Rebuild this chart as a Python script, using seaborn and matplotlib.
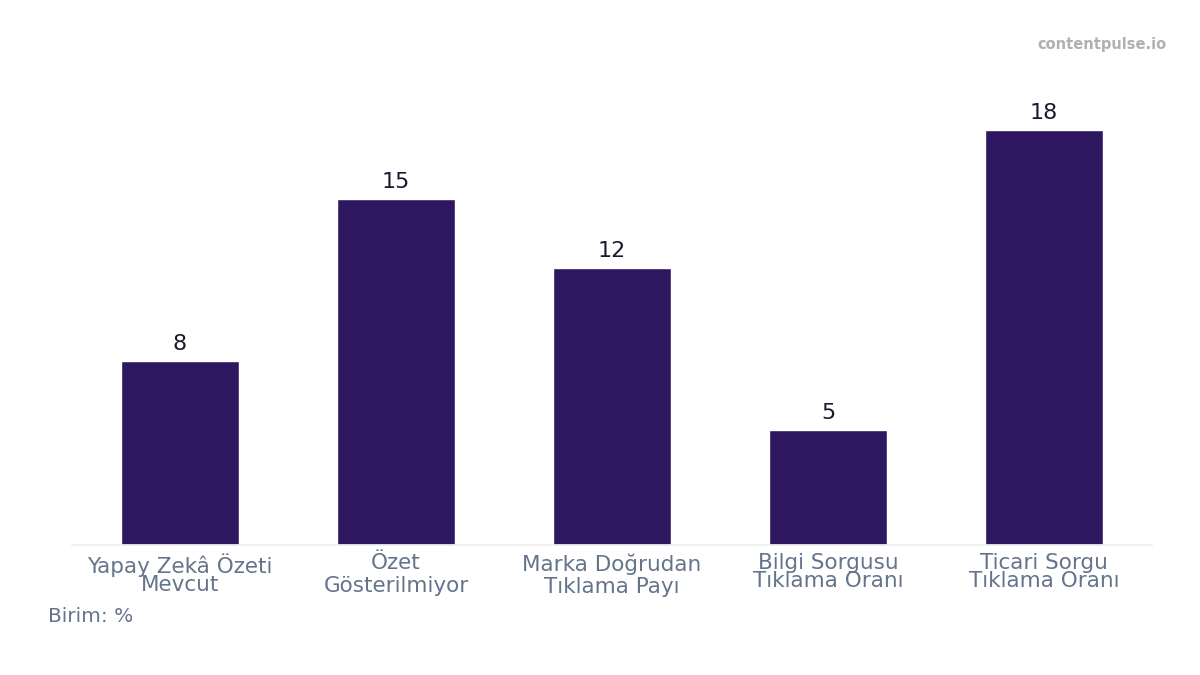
import matplotlib
matplotlib.use("Agg")
import matplotlib.pyplot as plt
import seaborn as sns
import pandas as pd

categories = ["Yapay Zekâ Özeti\nMevcut", "Özet\nGösterilmiyor", "Marka Doğrudan\nTıklama Payı",
              "Bilgi Sorgusu\nTıklama Oranı", "Ticari Sorgu\nTıklama Oranı"]
values = [8, 15, 12, 5, 18]

sns.set_theme(style="white")
plt.rcParams['font.family'] = ['DejaVu Sans']
df = pd.DataFrame({"cat": categories, "val": values})

fig = plt.figure(figsize=(12, 6.75), dpi=100)
ax = fig.add_axes([0.06, 1 - 545/675, 0.9, 485/675])
sns.barplot(data=df, x="cat", y="val", color="#2e1760", width=0.55, saturation=1, ax=ax)
ax.set_xlim(-0.5, 4.5)
ax.set_ylim(0, 485/23.06)
for i, v in enumerate(values):
    ax.text(i, v + 0.3, str(v), ha="center", va="bottom", fontsize=16, color="#1a1a2e")
ax.set_xlabel(""); ax.set_ylabel("")
ax.set_yticks([])
ax.tick_params(axis="x", labelsize=15.5, colors="#64748b", length=0, pad=6)
for i, lab in enumerate(ax.get_xticklabels()):
    lab.set_linespacing(0.85 if i in (0, 3, 4) else 1.15)
for s in ["top", "right", "left"]:
    ax.spines[s].set_visible(False)
ax.spines["bottom"].set_color("#eeeeee")
fig.text(48/1200, 1 - 616/675, "Birim: %", fontsize=14.5, color="#64748b", va="center")
fig.text(1166/1200, 1 - 44/675, "contentpulse.io", fontsize=10.5, color="#b0b0b0",
         ha="right", va="center", fontweight="bold")
fig.savefig("out.png", dpi=100)
